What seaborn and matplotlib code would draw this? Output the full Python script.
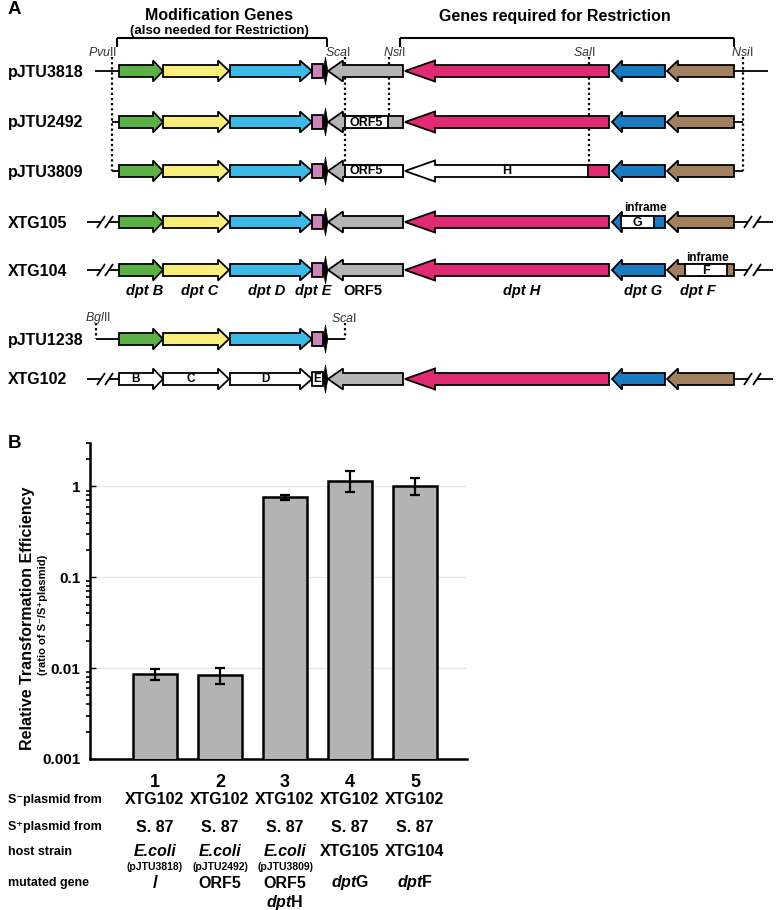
import numpy as np
import matplotlib
matplotlib.use('Agg')
import matplotlib.pyplot as plt
import matplotlib.transforms as mtransforms
from matplotlib.patches import Polygon, Rectangle
from matplotlib.ticker import LogLocator, NullFormatter, FixedLocator
import seaborn as sns
import pandas as pd

# ---------------- Panel B data ----------------
lanes = ['1', '2', '3', '4', '5']
efficiency = [0.0086, 0.0083, 0.76, 1.16, 1.02]
err_low = [0.0074, 0.0067, 0.70, 0.87, 0.81]
err_high = [0.0099, 0.0100, 0.81, 1.46, 1.24]
s_minus_from = ['XTG102', 'XTG102', 'XTG102', 'XTG102', 'XTG102']
s_plus_from = ['S. 87', 'S. 87', 'S. 87', 'S. 87', 'S. 87']
host_strain = ['E.coli', 'E.coli', 'E.coli', 'XTG105', 'XTG104']
host_plasmid = ['(pJTU3818)', '(pJTU2492)', '(pJTU3809)', '', '']
mutated_gene = ['/', 'ORF5', 'ORF5', r'$\mathbfit{dpt}\mathbf{G}$', r'$\mathbfit{dpt}\mathbf{F}$']
mutated_gene2 = ['', '', r'$\mathbfit{dpt}\mathbf{H}$', '', '']
row_names = ['S\u207bplasmid from', 'S\u207aplasmid from', 'host strain', 'mutated gene']
ytick_vals = [0.001, 0.01, 0.1, 1]
ytick_labels = ['0.001', '0.01', '0.1', '1']

# ---------------- Panel A data ----------------
constructs = ['pJTU3818', 'pJTU2492', 'pJTU3809', 'XTG105', 'XTG104', 'pJTU1238', 'XTG102']
gene_labels = ['dpt B', 'dpt C', 'dpt D', 'dpt E', 'ORF5', 'dpt H', 'dpt G', 'dpt F']
gene_start = [119, 163, 230, 312, 328, 405, 612, 667]
gene_end = [163, 229, 312, 323, 403, 609, 665, 734]
gene_dir = [1, 1, 1, 0, -1, -1, -1, -1]
gene_head = [10, 11, 12, 0, 15, 30, 10, 11]
gene_colors = ['#5cb146', '#f8ee7c', '#3cb9e5', '#c985ba', '#b4b4b4', '#e02b74', '#1a7bc0', '#a0805f']

sns.set_style('white')
plt.rcParams['font.family'] = ['Liberation Sans', 'DejaVu Sans']
plt.rcParams['text.color'] = 'black'
plt.rcParams['axes.labelcolor'] = 'black'
plt.rcParams['xtick.color'] = 'black'
plt.rcParams['ytick.color'] = 'black'
plt.rcParams['mathtext.fontset'] = 'custom'
plt.rcParams['mathtext.rm'] = 'Liberation Sans'
plt.rcParams['mathtext.it'] = 'Liberation Sans:italic'
plt.rcParams['mathtext.bf'] = 'Liberation Sans:bold'
plt.rcParams['mathtext.bfit'] = 'Liberation Sans:italic:bold'

W, H = 777, 910
fig = plt.figure(figsize=(W / 100, H / 100), dpi=100)
fig.patch.set_facecolor('white')

# overlay axes in pixel coordinates
axa = fig.add_axes([0, 0, 1, 1])
axa.set_xlim(0, W)
axa.set_ylim(H, 0)
axa.axis('off')

LW = 1.3
row_y = [71, 122, 171, 222, 270, 339, 379]
BH, HH = 12, 21


def gene_poly(x0, x1, d, head, yc, fc, z=3):
    if d == 1:
        pts = [(x0, yc - BH / 2), (x1 - head, yc - BH / 2), (x1 - head, yc - HH / 2), (x1, yc),
               (x1 - head, yc + HH / 2), (x1 - head, yc + BH / 2), (x0, yc + BH / 2)]
    elif d == -1:
        pts = [(x1, yc - BH / 2), (x0 + head, yc - BH / 2), (x0 + head, yc - HH / 2), (x0, yc),
               (x0 + head, yc + HH / 2), (x0 + head, yc + BH / 2), (x1, yc + BH / 2)]
    else:
        pts = [(x0, yc - 7), (x1, yc - 7), (x1, yc + 7), (x0, yc + 7)]
    axa.add_patch(Polygon(pts, closed=True, facecolor=fc, edgecolor='black', lw=LW, zorder=z,
                          joinstyle='miter'))


def box(x0, x1, yc, fc, label=None, z=4, fs=9):
    axa.add_patch(Rectangle((x0, yc - BH / 2), x1 - x0, BH, facecolor=fc, edgecolor='black',
                            lw=LW, zorder=z))
    if label:
        axa.text((x0 + x1) / 2, yc + 0.5, label, ha='center', va='center', fontsize=fs,
                 fontweight='bold', zorder=z + 1)


def line(xs, ys, **kw):
    kw.setdefault('color', 'black')
    kw.setdefault('lw', 1.3)
    kw.setdefault('zorder', 2)
    axa.plot(xs, ys, solid_capstyle='butt', **kw)


def brk(x0, x1, xs1, xs2, yc):
    line([x0, xs1], [yc, yc])
    line([xs2, x1], [yc, yc])
    for xs in (xs1, xs2):
        line([xs - 4, xs + 4], [yc + 6, yc - 6])


def spike(yc):
    axa.add_patch(Polygon([(325.5, yc - 14), (327.8, yc), (325.5, yc + 14), (323.2, yc)],
                          closed=True, facecolor='black', edgecolor='black', lw=0.5, zorder=6))


def dotted(x, y0, y1):
    axa.plot([x, x], [y0, y1], color='black', lw=1.6, ls=(0, (1, 1.3)), zorder=1)


# row labels
for name, yc in zip(constructs, row_y):
    axa.text(8, yc + 1, name, ha='left', va='center', fontsize=11.5, fontweight='bold')

# backbones
line([95, 119], [71, 71]); line([734, 768], [71, 71])
line([112, 119], [122, 122]); line([734, 743], [122, 122])
line([112, 119], [171, 171]); line([734, 743], [171, 171])
for yc in (222, 270, 379):
    brk(87, 119, 101, 109, yc)
    brk(734, 773, 748, 757, yc)
line([96, 119], [339, 339]); line([323, 345], [339, 339])

# genes
for r, yc in enumerate(row_y):
    n = 4 if r == 5 else len(gene_start)
    for g in range(n):
        fc = gene_colors[g]
        if r == 6 and g < 4:
            fc = 'white'
        if r == 2 and g == 5:
            fc = 'white'
        gene_poly(gene_start[g], gene_end[g], gene_dir[g], gene_head[g], yc, fc)
    spike(yc)

# modified regions
box(345, 388, 122, 'white', 'ORF5')
box(345, 403, 171, 'white')
axa.text(349, 171.5, 'ORF5', ha='left', va='center', fontsize=9, fontweight='bold', zorder=6)
box(588, 609, 171, gene_colors[5])
axa.text(507, 171.5, 'H', ha='center', va='center', fontsize=9, fontweight='bold', zorder=6)
box(621, 654, 222, 'white', 'G')
axa.text(645, 208, 'inframe', ha='center', va='center', fontsize=8.5, fontweight='bold')
box(685, 727, 270, 'white', 'F')
axa.text(707, 258, 'inframe', ha='center', va='center', fontsize=8.5, fontweight='bold')
for g, lab in enumerate(['B', 'C', 'D']):
    cx = (gene_start[g] + gene_end[g] - gene_head[g]) / 2
    axa.text(cx, 379.5, lab, ha='center', va='center', fontsize=8.5, fontweight='bold', zorder=6)
axa.text(317.5, 379.5, 'E', ha='center', va='center', fontsize=8.5, fontweight='bold', zorder=6)

# gene labels under XTG104
label_x = [145, 200, 267, 313, 363, 522, 643, 698]
for lab, lx in zip(gene_labels, label_x):
    style = 'normal' if lab == 'ORF5' else 'italic'
    axa.text(lx, 291, lab, ha='center', va='center', fontsize=10.5, fontweight='bold', style=style)

# dotted restriction-site lines
dotted(112, 57, 171)
dotted(345, 57, 171)
dotted(389, 57, 122)
dotted(589, 57, 171)
dotted(743, 57, 171)
dotted(96, 323, 339)
dotted(345, 323, 339)

enz = [(103, 52, 'Pvu', 'II'), (338, 52, 'Sca', 'I'), (394, 52, 'Nsi', 'I'),
       (584, 52, 'Sal', 'I'), (742, 52, 'Nsi', 'I'), (98, 318, 'Bgl', 'II'), (344, 318, 'Sca', 'I')]
for ex, ey, it, rm in enz:
    axa.text(ex, ey, r'$\mathit{' + it + '}$' + rm, ha='center', va='center', fontsize=9,
             color='#333333')

# brackets
line([117, 327], [38, 38], lw=1.5); line([117, 117], [38, 47], lw=1.5); line([327, 327], [38, 47], lw=1.5)
line([400, 734], [38, 38], lw=1.5); line([400, 400], [38, 47], lw=1.5); line([734, 734], [38, 47], lw=1.5)
axa.text(219, 16, 'Modification Genes', ha='center', va='center', fontsize=11.5, fontweight='bold')
axa.text(219, 31, '(also needed for Restriction)', ha='center', va='center', fontsize=9.5,
         fontweight='bold')
axa.text(555, 16, 'Genes required for Restriction', ha='center', va='center', fontsize=11.5,
         fontweight='bold')

axa.text(8, 10, 'A', ha='left', va='center', fontsize=13.5, fontweight='bold')
axa.text(8, 443, 'B', ha='left', va='center', fontsize=13.5, fontweight='bold')

# ---------------- Panel B ----------------
ax = fig.add_axes([90 / W, 1 - 759 / H, 377 / W, 316 / H])
ax.patch.set_alpha(0)
df = pd.DataFrame({'lane': lanes, 'eff': efficiency})
sns.barplot(data=df, x='lane', y='eff', ax=ax, color='#b3b3b3', edgecolor='black', linewidth=1.8,
            width=0.68, saturation=1, errorbar=None, zorder=3)
ax.set_yscale('log')
lo = np.array(efficiency) - np.array(err_low)
hi = np.array(err_high) - np.array(efficiency)
ax.errorbar(np.arange(len(lanes)), efficiency, yerr=[lo, hi], fmt='none', ecolor='black',
            elinewidth=1.6, capsize=3.8, capthick=1.6, zorder=4)
ax.set_ylim(0.001, 3)
ax.set_xlim(-1.0, 4.8)
ax.set_xlabel('')
ax.set_ylabel('')
for s in ('top', 'right'):
    ax.spines[s].set_visible(False)
for s in ('left', 'bottom'):
    ax.spines[s].set_linewidth(1.8)
    ax.spines[s].set_color('black')
ax.yaxis.set_major_locator(FixedLocator(ytick_vals))
ax.set_yticklabels(ytick_labels, fontsize=11, fontweight='bold')
ax.yaxis.set_minor_locator(LogLocator(base=10, subs=np.arange(2, 10)))
ax.yaxis.set_minor_formatter(NullFormatter())
ax.tick_params(axis='y', which='major', direction='in', length=4, width=1, pad=7, left=True,
               colors='black')
ax.tick_params(axis='y', which='minor', direction='out', length=3, width=1.2, left=True,
               colors='black')
ax.tick_params(axis='x', length=0, pad=11, colors='black')
ax.set_xticks(range(len(lanes)))
ax.set_xticklabels(lanes, fontsize=13, fontweight='bold')
ax.grid(axis='y', which='major', color='#e6e6e6', lw=0.9)
ax.grid(axis='x', visible=False)
ax.set_axisbelow(True)

# y label
axa.text(28, 618, 'Relative Transformation Efficiency', rotation=90, ha='center', va='center',
         fontsize=11.5, fontweight='bold')
axa.text(43, 615, '(ratio of S\u207b/S\u207aplasmid)', rotation=90, ha='center', va='center',
         fontsize=8, fontweight='bold')

# table under bars
trans = mtransforms.blended_transform_factory(ax.transData, axa.transData)
row_label_y = [800, 827, 852, 883]
for name, yy in zip(row_names, row_label_y):
    axa.text(8, yy, name, ha='left', va='center', fontsize=9, fontweight='bold')
for i in range(len(lanes)):
    ax.text(i, 800, s_minus_from[i], transform=trans, ha='center', va='center', fontsize=11.5,
            fontweight='bold')
    ax.text(i, 827, s_plus_from[i], transform=trans, ha='center', va='center', fontsize=11.5,
            fontweight='bold')
    hs_style = 'italic' if host_strain[i] == 'E.coli' else 'normal'
    ax.text(i, 852, host_strain[i], transform=trans, ha='center', va='center', fontsize=11.5,
            fontweight='bold', style=hs_style)
    if host_plasmid[i]:
        ax.text(i, 867, host_plasmid[i], transform=trans, ha='center', va='center', fontsize=7.5,
                fontweight='bold')
    ax.text(i, 883, mutated_gene[i], transform=trans, ha='center', va='center',
            fontsize=13 if mutated_gene[i] == '/' else 11.5, fontweight='bold')
    if mutated_gene2[i]:
        ax.text(i, 902, mutated_gene2[i], transform=trans, ha='center', va='center',
                fontsize=11.5, fontweight='bold')

fig.savefig('out.png', dpi=100, facecolor='white')
